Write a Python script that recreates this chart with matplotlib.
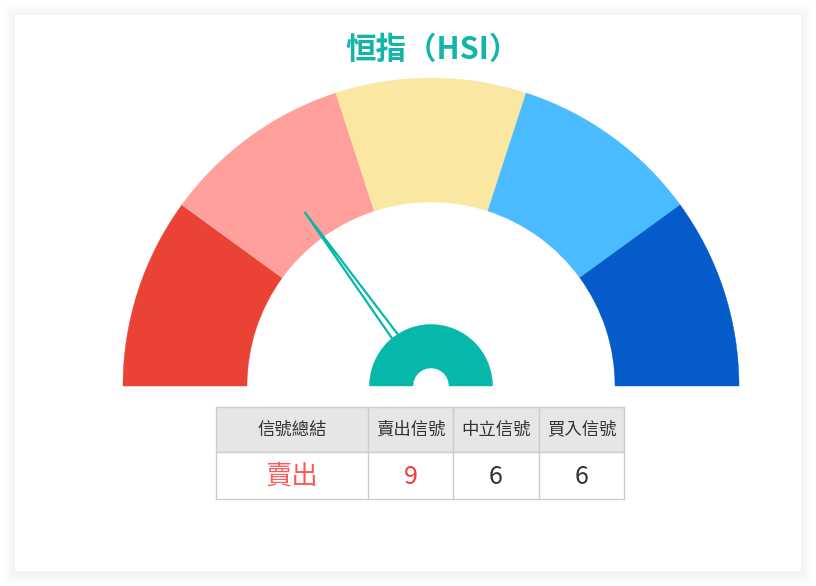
import numpy as np
import matplotlib
matplotlib.use("Agg")
import matplotlib.pyplot as plt
from matplotlib.patches import Wedge, Polygon, Rectangle

plt.rcParams['font.family'] = ['Noto Sans CJK TC', 'DejaVu Sans']

# ---- data ----
title = "恒指（HSI）"
segment_colors = ["#EA4335", "#FFA09D", "#FAE8A2", "#4BBBFF", "#045BC9"]
segment_count = 5
gauge_min, gauge_max = 0, 100
needle_value = 30
table_headers = ["信號總結", "賣出信號", "中立信號", "買入信號"]
table_values = ["賣出", "9", "6", "6"]
value_colors = ["#FF5A5A", "#F53B3B", "#333333", "#333333"]

W, H = 816, 586
fig = plt.figure(figsize=(W / 100, H / 100), dpi=100)
ax = fig.add_axes([0, 0, 1, 1])
ax.set_xlim(0, W)
ax.set_ylim(0, H)
ax.axis("off")

def Y(y):
    return H - y

# card shadow (soft)
for i in range(12):
    s = 1 + i * 1.0
    ax.add_patch(Rectangle((15 - s, Y(571) - s - 1.5), 786 + 2 * s, 556 + 2 * s,
                           facecolor="black", alpha=0.0032, edgecolor="none", zorder=0))
ax.add_patch(Rectangle((15, Y(571)), 786, 556, facecolor="white", edgecolor="none", zorder=1))

# title
ax.text(433, Y(50), title, ha="center", va="center", fontsize=22, fontweight="bold",
        color="#12B5A6", zorder=5)

# gauge
cx, cy = 431, Y(386)
r_out, r_in = 308, 184
step = 180 / segment_count
for i, c in enumerate(segment_colors):
    t2 = 180 - i * step
    t1 = t2 - step
    ax.add_patch(Wedge((cx, cy), r_out, t1, t2, width=r_out - r_in, facecolor=c,
                       edgecolor=c, linewidth=0.3, zorder=2))

# needle
teal = "#06B8AA"
frac = (needle_value - gauge_min) / (gauge_max - gauge_min)
ang = np.deg2rad(180 - 180 * frac)
L = 215
tip = (cx + L * np.cos(ang), cy + L * np.sin(ang))
perp = np.array([-np.sin(ang), np.cos(ang)])
base_c = np.array([cx, cy]) + 50 * np.array([np.cos(ang), np.sin(ang)])
p1 = base_c + 3.8 * perp
p2 = base_c - 3.8 * perp
ax.add_patch(Polygon([tip, p1, p2], closed=True, facecolor="white", edgecolor=teal,
                     linewidth=1.6, joinstyle="miter", zorder=3))
# hub
ax.add_patch(Wedge((cx, cy), 61.5, 0, 180, width=61.5 - 18, facecolor=teal,
                   edgecolor=teal, linewidth=0.3, zorder=4))

# table
col_x = [216, 368, 453, 539, 624]
row_y = [407, 452, 499]
ax.add_patch(Rectangle((col_x[0], Y(row_y[1])), col_x[-1] - col_x[0], row_y[1] - row_y[0],
                       facecolor="#E6E6E6", edgecolor="none", zorder=2))
for x in col_x:
    ax.plot([x, x], [Y(row_y[0]), Y(row_y[2])], color="#CCCCCC", lw=1, zorder=3)
for y in row_y:
    ax.plot([col_x[0], col_x[-1]], [Y(y), Y(y)], color="#CCCCCC", lw=1, zorder=3)
for i in range(4):
    xm = (col_x[i] + col_x[i + 1]) / 2
    ax.text(xm, Y((row_y[0] + row_y[1]) / 2), table_headers[i], ha="center", va="center",
            fontsize=12.5, color="#333333", zorder=4)
    ax.text(xm, Y((row_y[1] + row_y[2]) / 2 + 1), table_values[i], ha="center", va="center",
            fontsize=19 if i == 0 else 18, color=value_colors[i], zorder=4)

fig.savefig("out.png", dpi=100)
